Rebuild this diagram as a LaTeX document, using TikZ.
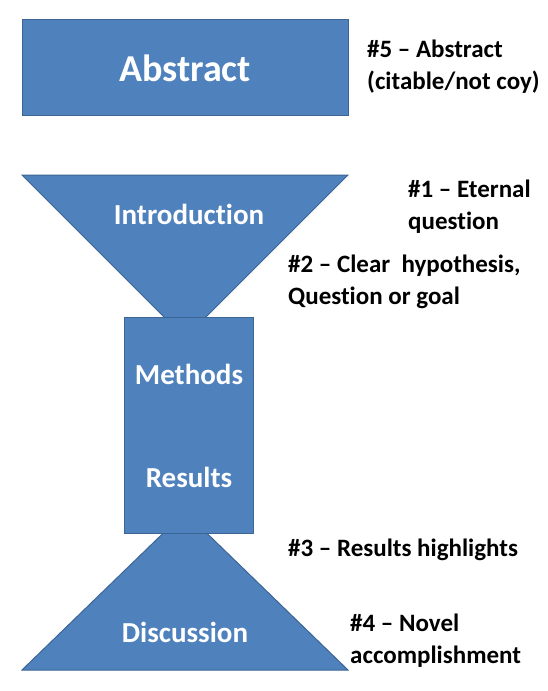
\documentclass[tikz,border=0pt]{standalone}
\usepackage{fontspec}
\setmainfont{Carlito}[Ligatures=NoCommon]
\definecolor{boxblue}{HTML}{4F81BD}
\definecolor{boxedge}{HTML}{3C6595}
\begin{document}
\begin{tikzpicture}[x=1pt,y=-1pt,
  shapefill/.style={fill=boxblue,draw=boxedge,line width=1pt},
  inlabel/.style={text=white,font=\bfseries\fontsize{29}{35}\selectfont,inner sep=0pt},
  sidelabel/.style={text=black,font=\bfseries\fontsize{25}{32}\selectfont,inner sep=0pt,anchor=west,align=left}]
\useasboundingbox (0,0) rectangle (548,691);
% shapes
\path[shapefill] (22,19) rectangle (348,115);
\path[shapefill] (22,175) -- (348,175) -- (185,338) -- cycle;
\path[shapefill] (185,512) -- (348,670) -- (22,670) -- cycle;
\path[shapefill] (124,317) rectangle (253,533);
% labels inside shapes
\node[inlabel,font=\bfseries\fontsize{38}{45}\selectfont] (abs) at (185,68) {Abstract};
\node[inlabel] (intro) at (189,214) {Introduction};
\node[inlabel] (meth) at (189,374) {Methods};
\node[inlabel] (res) at (189,477) {Results};
\node[inlabel] (disc) at (185,632) {Discussion};
% side labels
\node[sidelabel] (n5) at (367,67) {\#5 – Abstract\\(citable/not coy)};
\node[sidelabel] (n1) at (408,207) {\#1 – Eternal\\question};
\node[sidelabel] (n2) at (288,282) {\#2 – Clear\ \ hypothesis,\\Question or goal};
\node[sidelabel] (n3) at (288,550) {\#3 – Results highlights};
\node[sidelabel] (n4) at (350,641) {\#4 – Novel\\accomplishment};
\end{tikzpicture}
\end{document}
